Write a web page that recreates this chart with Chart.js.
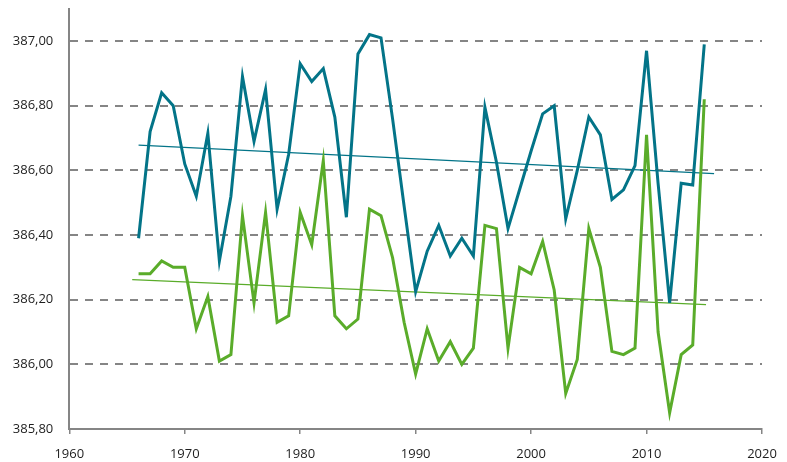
<!DOCTYPE html>
<html>
<head>
<meta charset="utf-8">
<script src="https://cdn.jsdelivr.net/npm/chart.js@4/dist/chart.umd.min.js"></script>
<style>
  html, body { margin: 0; padding: 0; background: #ffffff; }
  #wrap { width: 787px; height: 462px; }
</style>
</head>
<body>
<div id="wrap"><canvas id="c" width="787" height="462"></canvas></div>
<script>
// Years of record
const years = [
  1966, 1967, 1968, 1969, 1970, 1971, 1972, 1973, 1974, 1975,
  1976, 1977, 1978, 1979, 1980, 1981, 1982, 1983, 1984, 1985,
  1986, 1987, 1988, 1989, 1990, 1991, 1992, 1993, 1994, 1995,
  1996, 1997, 1998, 1999, 2000, 2001, 2002, 2003, 2004, 2005,
  2006, 2007, 2008, 2009, 2010, 2011, 2012, 2013, 2014, 2015
];

// Upper series (teal)
const seriesHigh = [
  386.39, 386.72, 386.84, 386.80, 386.62, 386.52, 386.715, 386.32, 386.52, 386.89,
  386.69, 386.85, 386.48, 386.65, 386.93, 386.875, 386.915, 386.765, 386.455, 386.96,
  387.02, 387.01, 386.76, 386.49, 386.225, 386.35, 386.43, 386.335, 386.39, 386.335,
  386.795, 386.625, 386.42, 386.54, 386.66, 386.775, 386.80, 386.45, 386.60, 386.765,
  386.71, 386.51, 386.54, 386.615, 386.97, 386.56, 386.19, 386.56, 386.555, 386.99
];

// Lower series (green)
const seriesLow = [
  386.28, 386.28, 386.32, 386.30, 386.30, 386.11, 386.21, 386.01, 386.03, 386.46,
  386.19, 386.47, 386.13, 386.15, 386.47, 386.37, 386.63, 386.15, 386.11, 386.14,
  386.48, 386.46, 386.33, 386.13, 385.97, 386.11, 386.01, 386.07, 386.00, 386.05,
  386.43, 386.42, 386.05, 386.30, 386.28, 386.38, 386.23, 385.91, 386.015, 386.42,
  386.30, 386.04, 386.03, 386.05, 386.71, 386.10, 385.85, 386.03, 386.06, 386.82
];

// Linear trend lines: start/end years and values
const trendHighX = [1966, 2015.85];
const trendHighY = [386.678, 386.59];
const trendLowX = [1965.45, 2015.15];
const trendLowY = [386.262, 386.185];

// Axis ticks
const xTicks = [1960, 1970, 1980, 1990, 2000, 2010, 2020];
const yTicks = [385.8, 386.0, 386.2, 386.4, 386.6, 386.8, 387.0];

const TEAL = '#037488';
const GREEN = '#5aac2a';
const AXIS = '#858585';

const pts = (xs, ys) => xs.map((x, i) => ({ x: x, y: ys[i] }));

Chart.defaults.font.family = '"Open Sans", "Noto Sans", sans-serif';
Chart.defaults.font.size = 13;
Chart.defaults.color = '#1e1e1e';

new Chart(document.getElementById('c'), {
  type: 'line',
  data: {
    datasets: [
      { data: pts(years, seriesLow), borderColor: GREEN, borderWidth: 3 },
      { data: pts(years, seriesHigh), borderColor: TEAL, borderWidth: 3 },
      { data: pts(trendLowX, trendLowY), borderColor: GREEN, borderWidth: 1.3 },
      { data: pts(trendHighX, trendHighY), borderColor: TEAL, borderWidth: 1.3 }
    ]
  },
  options: {
    responsive: false,
    animation: false,
    layout: { padding: { left: 0, right: 25, top: 8.75, bottom: 0 } },
    elements: {
      point: { radius: 0, hoverRadius: 0 },
      line: { tension: 0, fill: false, borderJoinStyle: 'miter', borderCapStyle: 'butt' }
    },
    plugins: { legend: { display: false }, tooltip: { enabled: false } },
    scales: {
      x: {
        type: 'linear',
        min: xTicks[0],
        max: xTicks[xTicks.length - 1],
        afterBuildTicks: s => { s.ticks = xTicks.map(v => ({ value: v })); },
        afterFit: s => { s.height = 33; s.paddingLeft = 0; s.paddingRight = 0; },
        ticks: { padding: 12, maxRotation: 0, callback: v => String(v) },
        grid: { drawOnChartArea: false, drawTicks: true, tickLength: 5, color: AXIS, lineWidth: 1.5 },
        border: { display: true, color: AXIS, width: 2 }
      },
      y: {
        type: 'linear',
        min: 385.8,
        max: 387.1,
        afterBuildTicks: s => { s.ticks = yTicks.map(v => ({ value: v })); },
        afterFit: s => { s.width = 69.3; s.paddingTop = 0; s.paddingBottom = 0; },
        ticks: { padding: 16, callback: v => v.toFixed(2).replace('.', ',') },
        grid: {
          drawTicks: false,
          lineWidth: 2,
          color: ctx => (ctx.tick && Math.abs(ctx.tick.value - 385.8) < 1e-6) ? 'rgba(0,0,0,0)' : AXIS
        },
        border: { display: true, color: AXIS, width: 2, dash: [8, 7] }
      }
    }
  }
});
</script>
</body>
</html>
